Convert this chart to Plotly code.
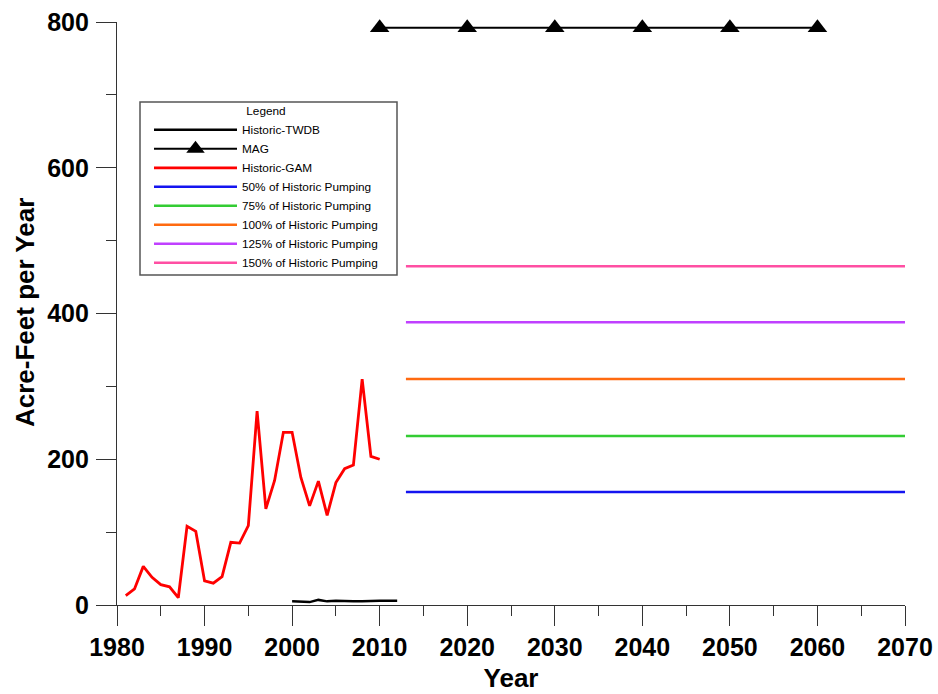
import plotly.graph_objects as go

# ---- data ----
gam_years = list(range(1981, 2011))
gam_values = [13, 22, 53, 38, 28, 25, 10, 108, 101, 33, 30, 39, 86, 85, 109,
              266, 132, 171, 237, 237, 175, 136, 170, 123, 168, 187, 192, 310, 204, 200]

twdb_years = list(range(2000, 2013))
twdb_values = [5, 5, 4, 7, 5, 6, 5, 5, 5, 6, 6, 6, 6]

mag_years = [2010, 2020, 2030, 2040, 2050, 2060]
mag_values = [792, 792, 792, 792, 792, 792]

scen_years = [2013, 2070]
scen_names = ["50% of Historic Pumping", "75% of Historic Pumping",
              "100% of Historic Pumping", "125% of Historic Pumping",
              "150% of Historic Pumping"]
scen_values = [155, 232, 310, 388, 465]
scen_colors = ["#1414f0", "#33cc33", "#ff6a10", "#c040ff", "#ff4fa3"]

x_ticks = list(range(1980, 2071, 10))
y_ticks = [0, 200, 400, 600, 800]

# plot area geometry (pixels)
L, R, T, B = 117, 905, 22, 605
W, H = R - L, B - T


def px_x(p):
    return (p - L) / W


def px_y(p):
    return (B - p) / H


fig = go.Figure()

fig.add_trace(go.Scatter(x=twdb_years, y=twdb_values, mode="lines",
                         name="Historic-TWDB", line=dict(color="black", width=2.5)))
fig.add_trace(go.Scatter(x=mag_years, y=mag_values, mode="lines+markers",
                         name="MAG", line=dict(color="black", width=2),
                         marker=dict(symbol="triangle-up", size=17, color="black"),
                         cliponaxis=False))
fig.add_trace(go.Scatter(x=gam_years, y=gam_values, mode="lines",
                         name="Historic-GAM", line=dict(color="#ff0000", width=2.8)))
for name, val, col in zip(scen_names, scen_values, scen_colors):
    fig.add_trace(go.Scatter(x=scen_years, y=[val, val], mode="lines", name=name,
                             line=dict(color=col, width=2.5)))

fig.update_layout(
    width=938, height=694,
    margin=dict(l=L, r=938 - R, t=T, b=694 - B, autoexpand=False),
    paper_bgcolor="white", plot_bgcolor="white",
    font=dict(family="Liberation Sans, Arial, sans-serif", color="black"),
    showlegend=True,
    legend=dict(
        x=px_x(149), y=px_y(100), xanchor="left", yanchor="top",
        bgcolor="rgba(0,0,0,0)", borderwidth=0,
        font=dict(size=11.8, color="black"),
        itemwidth=83, tracegroupgap=0,
        title=dict(text="Legend", side="top center", font=dict(size=11.8)),
        itemclick=False,
    ),
    shapes=[dict(type="rect", xref="paper", yref="paper",
                 x0=px_x(140), x1=px_x(397), y0=px_y(275), y1=px_y(102),
                 line=dict(color="#555555", width=1.5), fillcolor="white",
                 layer="below")],
    annotations=[dict(text="<b>Acre-Feet per Year</b>", xref="paper", yref="paper",
                      x=px_x(25), y=px_y(313), textangle=-90, showarrow=False,
                      font=dict(size=26, color="black"),
                      xanchor="center", yanchor="middle")],
)

fig.update_xaxes(
    range=[1980, 2070], tickmode="array", tickvals=x_ticks,
    ticktext=[str(v) for v in x_ticks], automargin=False,
    showgrid=False, zeroline=False, showline=True, linecolor="#333333", linewidth=1.2,
    ticks="outside", ticklen=20, tickwidth=1.2, tickcolor="#333333",
    minor=dict(dtick=5, ticks="outside", ticklen=10, tickwidth=1.2, tickcolor="#333333"),
    tickfont=dict(size=25, family="Liberation Sans, Arial", weight="bold"),
    title=dict(text="<b>Year</b>", font=dict(size=26), standoff=8),
)
fig.update_yaxes(
    range=[0, 800], tickmode="array", tickvals=y_ticks,
    ticktext=[str(v) for v in y_ticks], automargin=False,
    showgrid=False, zeroline=False, showline=True, linecolor="#333333", linewidth=1.2,
    ticks="outside", ticklen=20, tickwidth=1.2, tickcolor="#333333",
    minor=dict(dtick=100, ticks="outside", ticklen=10, tickwidth=1.2, tickcolor="#333333"),
    tickfont=dict(size=25, family="Liberation Sans, Arial", weight="bold"),
    ticklabelstandoff=2,
)

fig.write_html("out.html", config={"displayModeBar": False},
               post_script="document.body.style.margin='0';document.body.style.overflow='hidden';")
